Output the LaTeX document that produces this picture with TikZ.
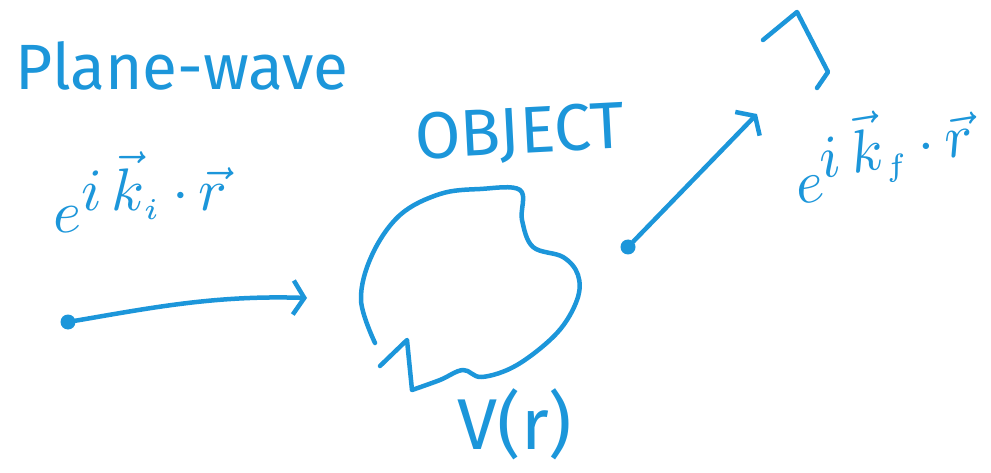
\documentclass[tikz,border=0pt]{standalone}
\usepackage{fontspec}
\newfontfamily\hand{Fira Sans}
\usetikzlibrary{arrows.meta}
\definecolor{ink}{RGB}{28,150,218}
\tikzset{
  wire/.style={draw=ink, line width=4.5pt, line cap=round, line join=round},
  dotnode/.style={circle, fill=ink, inner sep=0pt, minimum size=15pt},
  hook/.style={-{Straight Barb[length=11pt, width=34pt, line width=4.5pt]}},
  label/.style={text=ink, inner sep=0pt, font=\hand}
}
\begin{document}
\begin{tikzpicture}[x=1pt, y=-1pt]
\useasboundingbox (0,0) rectangle (991,473);
\fill[white] (0,0) rectangle (991,473);

% texts
\node[label, font=\hand\fontsize{64}{66}\selectfont] (plane) at (182,66) {Plane-wave};
\node[label] (ein) at (142,192)
  {\scalebox{6}{$e^{\textstyle i\,\vec{k}_{\scriptscriptstyle i}\,{\cdot}\,\vec{r}}$}};
\node[label, font=\hand\fontsize{66}{68}\selectfont, rotate=3] (obj) at (520,135) {OBJECT};
\node[label, font=\hand\fontsize{72}{74}\selectfont] (vr) at (515,424) {V(r)};
\node[label, rotate=9] (eout) at (884,150)
  {\scalebox{6}{$e^{\textstyle i\,\vec{k}_{\scriptscriptstyle f}\,{\cdot}\,\vec{r}}$}};

% incoming wave
\node[dotnode] (d1) at (68,322) {};
\coordinate (h1) at (307,298);
\draw[wire, hook] (d1) .. controls (150,308) and (215,295) .. (h1);

% outgoing wave
\node[dotnode] (d2) at (628,247) {};
\coordinate (h2) at (757,114);
\draw[wire, hook] (d2) -- (h2);

% object blob
\draw[wire] plot[smooth, tension=0.6] coordinates {
  (375,343) (361,300) (372,255) (400,215) (440,194) (480,189) (520,190)
  (522,220) (533,247) (563,257) (578,275) (577,300) (557,333) (517,365)
  (482,377) (463,370) (440,380) (412,390)}
  -- (407,340) -- (380,366);

% partial bracket mark top right
\draw[wire] (763,40) -- (797,12) -- (828,72) -- (817,88);
\end{tikzpicture}
\end{document}
